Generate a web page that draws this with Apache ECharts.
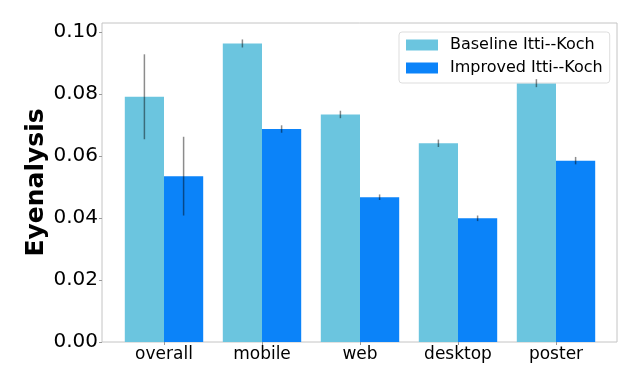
<!DOCTYPE html>
<html>
<head>
<meta charset="utf-8">
<script src="https://cdn.jsdelivr.net/npm/echarts@6/dist/echarts.min.js"></script>
<style>
  html, body { margin: 0; padding: 0; background: #fff; }
  #chart { width: 640px; height: 384px; }
</style>
</head>
<body>
<div id="chart"></div>
<script>
const categories = ["overall", "mobile", "web", "desktop", "poster"];
const baseline = [0.0791, 0.0963, 0.0734, 0.0641, 0.0835];
const baselineErr = [0.0137, 0.0013, 0.0012, 0.0012, 0.0013];
const improved = [0.0535, 0.0687, 0.0467, 0.0399, 0.0585];
const improvedErr = [0.0127, 0.0012, 0.0009, 0.0009, 0.0012];
const yTicks = [0, 0.02, 0.04, 0.06, 0.08, 0.1];

const FONT = "DejaVu Sans";
const BASE_COLOR = "#6BC5DF";
const IMPR_COLOR = "#0B83F9";

// error bar drawn at bar centre: category centre shifted by one bar width
const errorSeries = (values, errs, side) => ({
  type: "custom",
  xAxisIndex: 0,
  yAxisIndex: 0,
  z: 5,
  silent: true,
  data: values.map((v, i) => [i, v - errs[i], v + errs[i]]),
  renderItem: (params, api) => {
    const band = api.size([1, 0])[0];
    const lo = api.coord([api.value(0), api.value(1)]);
    const hi = api.coord([api.value(0), api.value(2)]);
    const x = lo[0] + side * band * 0.2;
    return {
      type: "line",
      shape: { x1: x, y1: lo[1], x2: x, y2: hi[1] },
      style: { stroke: "rgba(0,0,0,0.45)", lineWidth: 1.5 },
    };
  },
});

const chart = echarts.init(document.getElementById("chart"));
chart.setOption({
  animation: false,
  textStyle: { fontFamily: FONT },
  grid: [
    { left: 115, right: 35, top: 23, bottom: 42 },
    { left: 102, right: 23, top: 23, bottom: 42, show: true, borderColor: "#c4c4c4", borderWidth: 1, backgroundColor: "transparent" },
  ],
  legend: {
    orient: "vertical",
    left: 399,
    top: 32,
    padding: [5, 7, 7, 7],
    itemGap: 7,
    itemWidth: 32,
    itemHeight: 11,
    icon: "rect",
    backgroundColor: "rgba(255,255,255,0.85)",
    borderColor: "#dddddd",
    borderWidth: 1,
    borderRadius: 3,
    textStyle: { fontFamily: FONT, fontSize: 16, color: "#000", padding: [0, 0, 0, 7] },
    data: ["Baseline Itti--Koch", "Improved Itti--Koch"],
  },
  xAxis: [
    {
      type: "category",
      gridIndex: 0,
      data: categories,
      axisLine: { show: false },
      axisTick: { show: true, alignWithLabel: true, length: 3, lineStyle: { color: "#999" } },
      axisLabel: { fontFamily: FONT, fontSize: 17, color: "#000", margin: 4 },
      splitLine: { show: false },
    },
    { type: "value", gridIndex: 1, show: false },
  ],
  yAxis: [
    {
      type: "value",
      gridIndex: 0,
      min: 0,
      max: 0.1029,
      offset: 13,
      name: "Eyenalysis",
      nameLocation: "middle",
      nameGap: 53,
      nameMoveOverlap: false,
      nameTextStyle: { fontFamily: FONT, fontSize: 25, fontWeight: "bold", color: "#000" },
      axisLine: { show: false },
      axisTick: { show: true, length: 3, customValues: yTicks, lineStyle: { color: "#999" } },
      axisLabel: {
        fontFamily: FONT, fontSize: 20, color: "#000", margin: 4,
        customValues: yTicks,
        formatter: (v) => v.toFixed(2),
      },
      splitLine: { show: false },
    },
    { type: "value", gridIndex: 1, show: false, min: 0, max: 1 },
  ],
  series: [
    {
      name: "Baseline Itti--Koch",
      type: "bar",
      data: baseline,
      barWidth: "40%",
      barGap: "0%",
      itemStyle: { color: BASE_COLOR },
    },
    {
      name: "Improved Itti--Koch",
      type: "bar",
      data: improved,
      barWidth: "40%",
      barGap: "0%",
      itemStyle: { color: IMPR_COLOR },
    },
    errorSeries(baseline, baselineErr, -1),
    errorSeries(improved, improvedErr, 1),
  ],
});
</script>
</body>
</html>
